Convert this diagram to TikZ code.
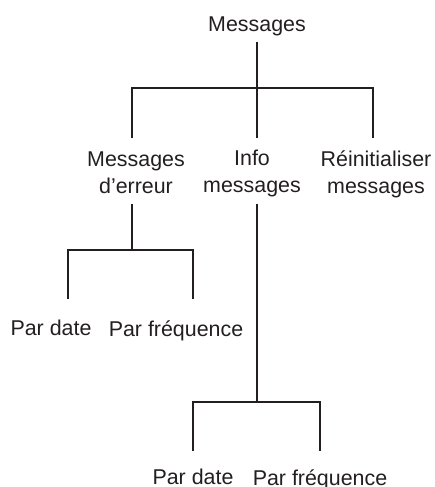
\documentclass[tikz,border=0pt]{standalone}
\usepackage{fontspec}
\setmainfont{Liberation Sans}
\definecolor{ink}{RGB}{35,31,32}
\tikzset{item/.style={anchor=north,inner sep=0pt,align=center,text=ink,
    font=\fontsize{10.7}{13.5}\selectfont},
  link/.style={draw=ink,line width=1.45pt}}

\begin{document}
\begin{tikzpicture}[x=0.5pt,y=-0.5pt]
  \useasboundingbox (0,0) rectangle (434,487);
  \node[item] (root) at (257,16) {Messages};
  \node[item] (err) at (136,151) {Messages\\d’erreur};
  \node[item] (info) at (252,150) {Info\\messages};
  \node[item] (reinit) at (376,150) {Réinitialiser\\messages};
  \node[item] (errdate) at (51,320) {Par date};
  \node[item] (errfreq) at (176,320) {Par fréquence};
  \node[item] (infodate) at (193,469) {Par date};
  \node[item] (infofreq) at (320,469) {Par fréquence};
  % joints
  \coordinate (hub) at (257,88);
  \coordinate (errhub) at (132,250);
  \coordinate (infohub) at (257,402);
  % top level
  \draw[link,shorten <=3pt] (root.south) -- (hub);
  \draw[link] ([yshift=6.5pt]err.north -| errhub) |- (hub) -| ([xshift=-1.5pt,yshift=6pt]reinit.north);
  \draw[link] (hub) -- ([yshift=6pt]info.north -| hub);
  % error branch
  \draw[link,shorten <=5pt] (err.south -| errhub) -- (errhub);
  \draw[link] ([xshift=8.5pt,yshift=10.5pt]errdate.north) |- (errhub) -| ([xshift=8.5pt,yshift=10.5pt]errfreq.north);
  % info branch
  \draw[link,shorten <=3pt] (info.south -| hub) -- (infohub);
  \draw[link] ([yshift=9pt]infodate.north) |- (infohub) -| ([yshift=9pt]infofreq.north);
\end{tikzpicture}
\end{document}
